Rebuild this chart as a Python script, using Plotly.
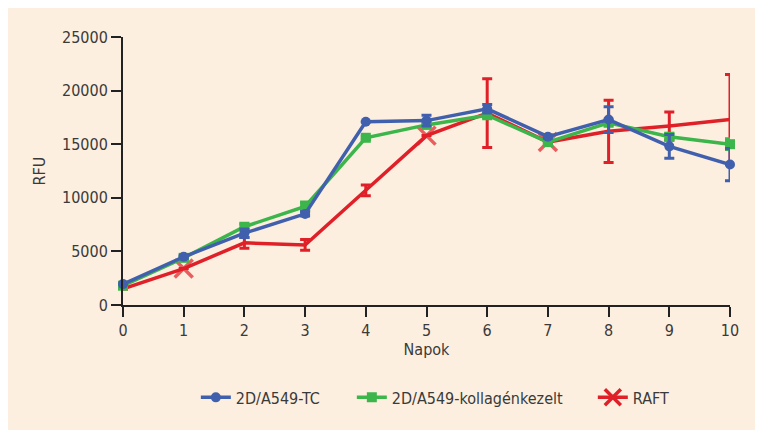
import plotly.graph_objects as go

days = [0, 1, 2, 3, 4, 5, 6, 7, 8, 9, 10]

tc_vals = [1950, 4500, 6700, 8500, 17100, 17200, 18300, 15700, 17300, 14800, 13100]
tc_err = [0, 150, 400, 200, 0, 500, 400, 150, 1200, 1100, 1500]

kol_vals = [1800, 4400, 7300, 9200, 15600, 16800, 17700, 15200, 17000, 15700, 15000]
kol_err = [0, 150, 250, 400, 150, 200, 200, 150, 200, 300, 500]

raft_vals = [1500, 3400, 5800, 5600, 10700, 15800, 17900, 15200, 16200, 16700, 17300]
raft_err = [0, 0, 500, 500, 500, 0, 3200, 0, 2900, 1300, 4200]
raft_marker_shown = [0, 1, 0, 0, 0, 1, 0, 1, 0, 0, 0]

names = ["2D/A549-TC", "2D/A549-kollagénkezelt", "RAFT"]

x_ticks = [0, 1, 2, 3, 4, 5, 6, 7, 8, 9, 10]
y_ticks = [0, 5000, 10000, 15000, 20000, 25000]

FONT = "DejaVu Sans Condensed, Liberation Sans Narrow, sans-serif"
TXT = "#3a3a3a"
BLUE = "#4060ae"
GREEN = "#3cb54a"
RED = "#e02028"
PANEL = "#fdefdf"

fig = go.Figure()

fig.add_trace(go.Scatter(
    x=days, y=raft_vals, name=names[2], mode="lines+markers", showlegend=False,
    line=dict(color=RED, width=3.5),
    marker=dict(symbol="x-thin-open", color=RED, size=[18 * s for s in raft_marker_shown],
                line=dict(color=RED, width=3.5)),
    error_y=dict(type="data", array=raft_err, visible=True, color=RED, thickness=3, width=5),
    cliponaxis=False,
))
fig.add_trace(go.Scatter(
    x=days, y=kol_vals, name=names[1], mode="lines+markers", legend="legend2",
    line=dict(color=GREEN, width=3.5),
    marker=dict(symbol="square", size=10, color=GREEN),
    error_y=dict(type="data", array=kol_err, visible=True, color=GREEN, thickness=3, width=5),
    cliponaxis=False,
))
fig.add_trace(go.Scatter(
    x=days, y=tc_vals, name=names[0], mode="lines+markers", legend="legend",
    line=dict(color=BLUE, width=3.5),
    marker=dict(symbol="circle", size=10, color=BLUE),
    error_y=dict(type="data", array=tc_err, visible=True, color=BLUE, thickness=3, width=5),
    cliponaxis=False,
))
# legend entry for RAFT (marker drawn at full size in the key)
fig.add_trace(go.Scatter(
    x=[None], y=[None], name=names[2], mode="lines+markers", legend="legend3",
    line=dict(color=RED, width=3.5),
    marker=dict(symbol="x-thin-open", color=RED, size=18, line=dict(color=RED, width=3.5)),
))

leg_common = dict(orientation="h", y=-0.345, yanchor="middle", xanchor="left",
                  bgcolor="rgba(0,0,0,0)", font=dict(family=FONT, size=16, color=TXT))

fig.update_layout(
    width=755, height=422,
    margin=dict(l=115, r=33, t=29, b=125),
    paper_bgcolor=PANEL,
    plot_bgcolor="rgba(0,0,0,0)",
    font=dict(family=FONT, size=16, color=TXT),
    showlegend=True,
    legend=dict(x=0.120, **leg_common),
    legend2=dict(x=0.377, **leg_common),
    legend3=dict(x=0.774, **leg_common),
    xaxis=dict(
        range=[0, 10], tickvals=x_ticks, ticktext=[str(t) for t in x_ticks],
        showgrid=False, zeroline=False, showline=True, linecolor="#222", linewidth=2,
        ticks="outside", ticklen=10, tickwidth=2, tickcolor="#222",
        title=dict(text="Napok", standoff=2, font=dict(size=16, color=TXT)),
    ),
    yaxis=dict(
        range=[0, 25000], tickvals=y_ticks, ticktext=[str(t) for t in y_ticks],
        showgrid=False, zeroline=False, showline=True, linecolor="#222", linewidth=2,
        ticks="outside", ticklen=10, tickwidth=2, tickcolor="#222",
        title=dict(text="RFU", standoff=12, font=dict(size=16, color=TXT)),
    ),
)

fig.write_html("out.html")
